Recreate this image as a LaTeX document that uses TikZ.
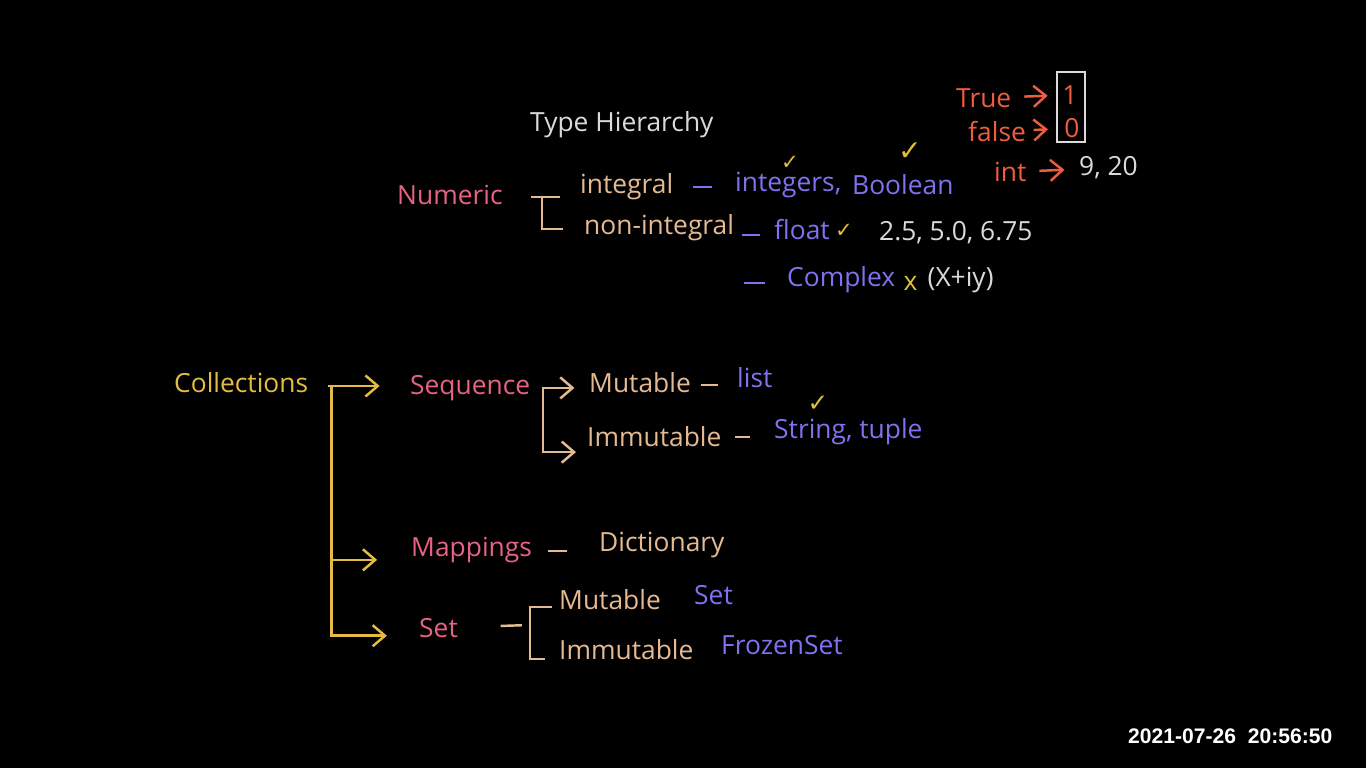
\documentclass[tikz,border=0pt]{standalone}
\usepackage{fontspec}
\setmainfont{Open Sans}
\newfontfamily\symfont{DejaVu Sans}
\newfontfamily\clockfont{Liberation Sans}
\usetikzlibrary{arrows.meta,positioning}
\definecolor{chalkpink}{RGB}{232,98,130}
\definecolor{chalktan}{RGB}{228,186,146}
\definecolor{chalkblue}{RGB}{126,114,240}
\definecolor{chalkyellow}{RGB}{228,188,64}
\definecolor{chalkred}{RGB}{240,92,62}
\definecolor{chalkwhite}{RGB}{218,218,218}

\begin{document}
\begin{tikzpicture}[x=0.01cm,y=-0.01cm,
  lbl/.style={inner sep=1pt,anchor=west,font=\fontsize{7.5}{9}\selectfont},
  head/.style={lbl,text=chalkpink},
  sub/.style={lbl,text=chalktan},
  item/.style={lbl,text=chalkblue},
  note/.style={lbl,text=chalkwhite},
  tick/.style={inner sep=0pt,text=chalkyellow,font=\symfont\fontsize{#1}{#1}\selectfont},
  tick/.default=6,
  tie/.style={line width=0.7pt},
  arr/.style={-{Straight Barb[length=3.5pt,width=6pt]},line width=0.7pt}
]
  % board
  \fill[black] (0,0) rectangle (1366,768);
  \useasboundingbox (0,0) rectangle (1366,768);

  \node[note] (title) at (526,125) {Type Hierarchy};

  % numeric types
  \node[head] (numeric)  at (393,195) {Numeric};
  \node[sub]  (integ)    at (576,187) {integral};
  \node[sub]  (noninteg) at (580,228) {non-integral};
  \coordinate (nb) at (542,197);
  \draw[tie,chalktan] (nb) ++(-11,0) -- ++(29,0)
    (nb) -- ++(0,32) -- ++(21,0);

  \node[item] (intg)    at (731,185) {integers,};
  \node[item] (bool)    at (848,185) {Boolean};
  \node[item] (float)   at (770,230) {float};
  \node[note] (floats)  at (875,233) {2.5, 5.0, 6.75};
  \node[item] (complex) at (783,280) {Complex};
  \node[lbl,text=chalkyellow,right=0pt of complex,yshift=-1pt] (cross) {x};
  \node[note,right=0.5pt of cross,yshift=1pt] (cplx) {(X+iy)};
  \draw[tie,chalkblue] (intg.west) ++(-38,2) -- ++(19,0);
  \draw[tie,chalkblue] (float.west) ++(-28,5) -- ++(18,0);
  \draw[tie,chalkblue] (complex.west) ++(-39,3) -- ++(21,0);

  \node[tick] (t1) at (790,163) {✓};
  \node[tick=8] (t2) at (910,152) {✓};
  \node[tick] (t3) at (844,231) {✓};

  % bool as int
  \node[lbl,text=chalkred] (true)  at (952,98)  {True};
  \node[lbl,text=chalkred] (false) at (964,132) {false};
  \node[lbl,text=chalkred] (int)   at (990,172) {int};
  \node[lbl,anchor=center,text=chalkred] (one)  at (1070,95)  {1};
  \node[lbl,anchor=center,text=chalkred] (zero) at (1072,128) {0};
  \node[note] (ints) at (1075,168) {9, 20};
  \draw[chalkwhite,tie] (1057,72) rectangle (1085,142);
  \draw[arr,chalkred,shorten <=2.5pt,shorten >=3pt] (true) -- (one);
  \draw[arr,chalkred,shorten <=1pt,shorten >=3.5pt] (false) -- (zero);
  \draw[arr,chalkred,shorten <=2.5pt,shorten >=3pt] (int) -- (ints);

  % collections
  \node[lbl,text=chalkyellow] (coll) at (170,383) {Collections};
  \node[head] (seq)  at (406,388) {Sequence};
  \node[head] (map)  at (407,550) {Mappings};
  \node[head] (setn) at (415,628) {Set};
  \coordinate (ctop) at (328,386);
  \draw[arr,chalkyellow,shorten >=7.5pt] (ctop) -- (seq.west |- ctop);
  \draw[arr,chalkyellow,shorten >=8.5pt] ([xshift=1pt]ctop) |- ([yshift=-2.8pt]map.west);
  \draw[arr,chalkyellow,shorten >=8pt] ([xshift=1pt]ctop) |- ([yshift=-2.2pt]setn.west);

  % sequence
  \node[sub]  (qmut)   at (585,383) {Mutable};
  \node[sub]  (qimm)   at (583,437) {Immutable};
  \node[item] (list)   at (733,378) {list};
  \node[item] (strtup) at (770,432) {String, tuple};
  \node[tick=7] (t4) at (818,404) {✓};
  \coordinate (qb) at (543,420);
  \draw[arr,chalktan,shorten >=3pt] (qb) |- ([yshift=-1.4pt]qmut.west);
  \draw[arr,chalktan,shorten >=2pt] (qb) |- ([yshift=-4.3pt]qimm.west);
  \draw[tie,chalktan] (list.west) ++(-32,7) -- ++(17,0);
  \draw[tie,chalktan] (strtup.west) ++(-35,5) -- ++(15,0);

  % mappings
  \node[sub] (dict) at (595,545) {Dictionary};
  \draw[tie,chalktan] (dict.west) ++(-47,6) -- ++(19,0);

  % set
  \node[sub]  (smut)   at (555,600) {Mutable};
  \node[sub]  (simm)   at (555,650) {Immutable};
  \node[item] (sset)   at (690,595) {Set};
  \node[item] (frozen) at (717,645) {FrozenSet};
  \coordinate (sb) at (530,625);
  \draw[tie,chalktan,shorten <=11pt,shorten >=2.3pt] (setn) -- (sb);
  \draw[tie,chalktan] ([xshift=-0.8pt,yshift=-2pt]smut.west) -| (sb)
    |- ([xshift=-2.8pt,yshift=-2.5pt]simm.west);

  % clock
  \node[inner sep=0pt,anchor=east,text=white,font=\clockfont\bfseries\fontsize{6}{7}\selectfont]
    (stamp) at (1333,736) {2021-07-26\ \ 20:56:50};
\end{tikzpicture}
\end{document}
